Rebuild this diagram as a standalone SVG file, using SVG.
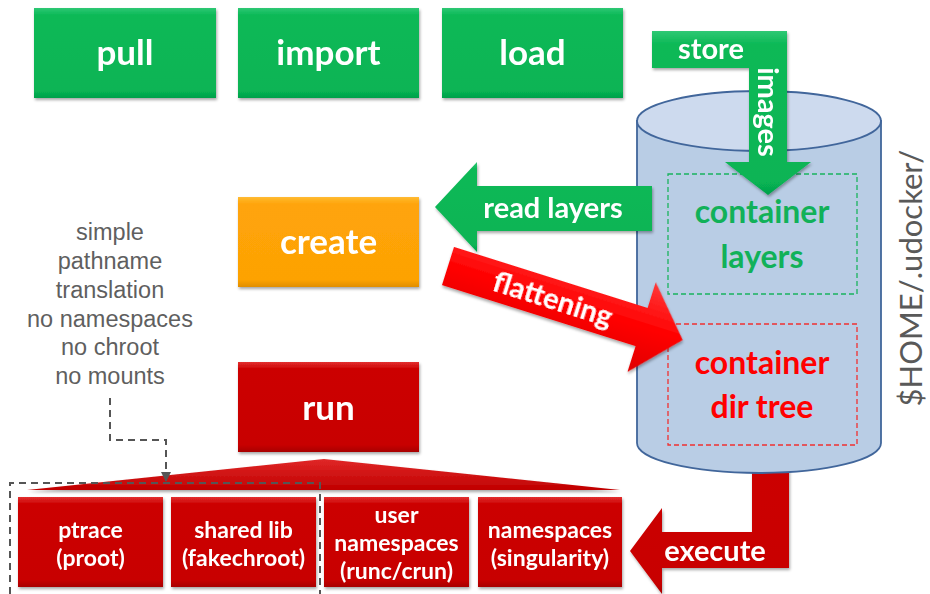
<svg xmlns="http://www.w3.org/2000/svg" width="930" height="594" viewBox="0 0 930 594">
<style>
.lbl{font-family:Lato,"Liberation Sans",sans-serif;font-weight:700;fill:#fff;text-anchor:middle}
.big{font-size:35px}
.mid{font-size:29px}
.sm{font-size:23px}
.note{font-family:"Liberation Sans",Arial,sans-serif;font-size:23.5px;fill:#5f5f5f;text-anchor:middle}
.dash{fill:none;stroke:#555;stroke-width:2;stroke-dasharray:7 5}
.inbox{fill:none;stroke-width:1.3;stroke-dasharray:5 3}
</style>
<defs>
<linearGradient id="gGreen" x1="0" y1="0" x2="0" y2="1"><stop offset="0" stop-color="#2fc874"/><stop offset="0.08" stop-color="#0bb957"/><stop offset="0.92" stop-color="#07b454"/><stop offset="1" stop-color="#05a04a"/></linearGradient>
<linearGradient id="gOrange" x1="0" y1="0" x2="0" y2="1"><stop offset="0" stop-color="#ffbb33"/><stop offset="0.08" stop-color="#ffa408"/><stop offset="0.92" stop-color="#fda205"/><stop offset="1" stop-color="#e08e00"/></linearGradient>
<linearGradient id="gRed" x1="0" y1="0" x2="0" y2="1"><stop offset="0" stop-color="#e23030"/><stop offset="0.08" stop-color="#cc0000"/><stop offset="0.92" stop-color="#c80000"/><stop offset="1" stop-color="#a80000"/></linearGradient>
<linearGradient id="gBright" x1="0" y1="0" x2="0" y2="1"><stop offset="0" stop-color="#ff3a3a"/><stop offset="0.5" stop-color="#ff0000"/><stop offset="1" stop-color="#e00000"/></linearGradient>
<linearGradient id="gTri" x1="0" y1="0" x2="0" y2="1"><stop offset="0" stop-color="#e02828"/><stop offset="1" stop-color="#c00000"/></linearGradient>
<filter id="sh" x="-10%" y="-10%" width="120%" height="130%"><feDropShadow dx="1" dy="2" stdDeviation="1.5" flood-color="#000" flood-opacity="0.35"/></filter>
<marker id="ah" viewBox="0 0 10 10" refX="9" refY="5" markerWidth="5" markerHeight="5" orient="auto"><path d="M0,0 L10,5 L0,10 z" fill="#555"/></marker>
</defs>

<g id="connectors">
  <g id="execute" filter="url(#sh)">
    <polygon points="752,460 789,460 789,568 662,568 662,594 630,551 662,508 662,532 752,532" fill="url(#gRed)"/>
    <text class="lbl mid" x="715" y="561">execute</text>
  </g>
</g>

<g id="storage">
  <path d="M637,121 L637,443 A122,30 0 0 0 881,443 L881,121 Z" fill="#b9cde5" stroke="#41669b" stroke-width="1.8"/>
  <ellipse cx="759" cy="121" rx="122" ry="30" fill="#cddaee" stroke="#41669b" stroke-width="1.8"/>
  <g id="layers">
    <rect class="inbox" x="668" y="174" width="189" height="120" stroke="#19b35e"/>
    <text x="762" y="223" font-family="Lato,'Liberation Sans',sans-serif" font-weight="700" font-size="32" fill="#11b159" text-anchor="middle">container</text>
    <text x="762" y="268" font-family="Lato,'Liberation Sans',sans-serif" font-weight="700" font-size="32" fill="#11b159" text-anchor="middle">layers</text>
  </g>
  <g id="dirtree">
    <rect class="inbox" x="668" y="324" width="189" height="121" stroke="#f03030"/>
    <text x="762" y="374" font-family="Lato,'Liberation Sans',sans-serif" font-weight="700" font-size="32" fill="#ff0000" text-anchor="middle">container</text>
    <text x="762" y="418" font-family="Lato,'Liberation Sans',sans-serif" font-weight="700" font-size="32" fill="#ff0000" text-anchor="middle">dir tree</text>
  </g>
  <text x="922" y="278" transform="rotate(-90 922 278)" font-family="Lato,'Liberation Sans',sans-serif" font-size="31" fill="#595959" text-anchor="middle">$HOME/.udocker/</text>
</g>

<g id="arrows">
  <g id="store" filter="url(#sh)">
    <polygon points="652,31 787,31 787,162 811,162 768,195 725,162 749,162 749,68 652,68" fill="url(#gGreen)"/>
    <text class="lbl mid" x="711" y="59">store</text>
    <text class="lbl mid" x="768" y="112" transform="rotate(90 768 112)" dy="10">images</text>
  </g>
  <g id="readlayers" filter="url(#sh)">
    <polygon points="652,186 477,186 477,162 435,207 477,252 477,231 652,231" fill="url(#gGreen)"/>
    <text class="lbl mid" x="553" y="218">read layers</text>
  </g>
  <g id="flattening" transform="translate(448 266) rotate(17.5)" filter="url(#sh)">
    <polygon points="0,-20 203,-20 203,-47 246,0 203,47 203,20 0,20" fill="url(#gBright)"/>
    <text class="lbl mid" x="110" y="10">flattening</text>
  </g>
</g>

<g id="pull" filter="url(#sh)"><rect x="34" y="8" width="182" height="90" fill="url(#gGreen)"/><text class="lbl big" x="125" y="65">pull</text></g>
<g id="import" filter="url(#sh)"><rect x="238" y="8" width="181" height="90" fill="url(#gGreen)"/><text class="lbl big" x="328.5" y="65">import</text></g>
<g id="load" filter="url(#sh)"><rect x="442" y="8" width="181" height="90" fill="url(#gGreen)"/><text class="lbl big" x="532.5" y="65">load</text></g>
<g id="create" filter="url(#sh)"><rect x="238" y="197" width="181" height="90" fill="url(#gOrange)"/><text class="lbl big" x="328.5" y="254">create</text></g>
<g id="run" filter="url(#sh)"><rect x="238" y="362" width="181" height="90" fill="url(#gRed)"/><text class="lbl big" x="328.5" y="420">run</text></g>

<g id="note">
  <text class="note" x="110" y="240">simple</text>
  <text class="note" x="110" y="269">pathname</text>
  <text class="note" x="110" y="298">translation</text>
  <text class="note" x="110" y="327">no namespaces</text>
  <text class="note" x="110" y="355">no chroot</text>
  <text class="note" x="110" y="384">no mounts</text>
</g>

<g id="fan"><polygon points="27,490 324,459 620,490" fill="url(#gTri)" filter="url(#sh)"/></g>

<g id="ptrace" filter="url(#sh)"><rect x="18" y="497" width="145" height="90" fill="url(#gRed)"/><text class="lbl sm" x="90.5" y="538">ptrace</text><text class="lbl sm" x="90.5" y="566">(proot)</text></g>
<g id="sharedlib" filter="url(#sh)"><rect x="171" y="497" width="145" height="90" fill="url(#gRed)"/><text class="lbl sm" x="243.5" y="538">shared lib</text><text class="lbl sm" x="243.5" y="566">(fakechroot)</text></g>
<g id="userns" filter="url(#sh)"><rect x="324" y="497" width="145" height="90" fill="url(#gRed)"/><text class="lbl sm" x="396.5" y="523">user</text><text class="lbl sm" x="396.5" y="551">namespaces</text><text class="lbl sm" x="396.5" y="579">(runc/crun)</text></g>
<g id="namespaces" filter="url(#sh)"><rect x="478" y="497" width="144" height="90" fill="url(#gRed)"/><text class="lbl sm" x="550" y="538">namespaces</text><text class="lbl sm" x="550" y="566">(singularity)</text></g>

<g id="dashed">
  <path class="dash" d="M110,398 V440 H166 V481" marker-end="url(#ah)"/>
  <path class="dash" d="M10,594 V483 H320 V594"/>
</g>
</svg>
